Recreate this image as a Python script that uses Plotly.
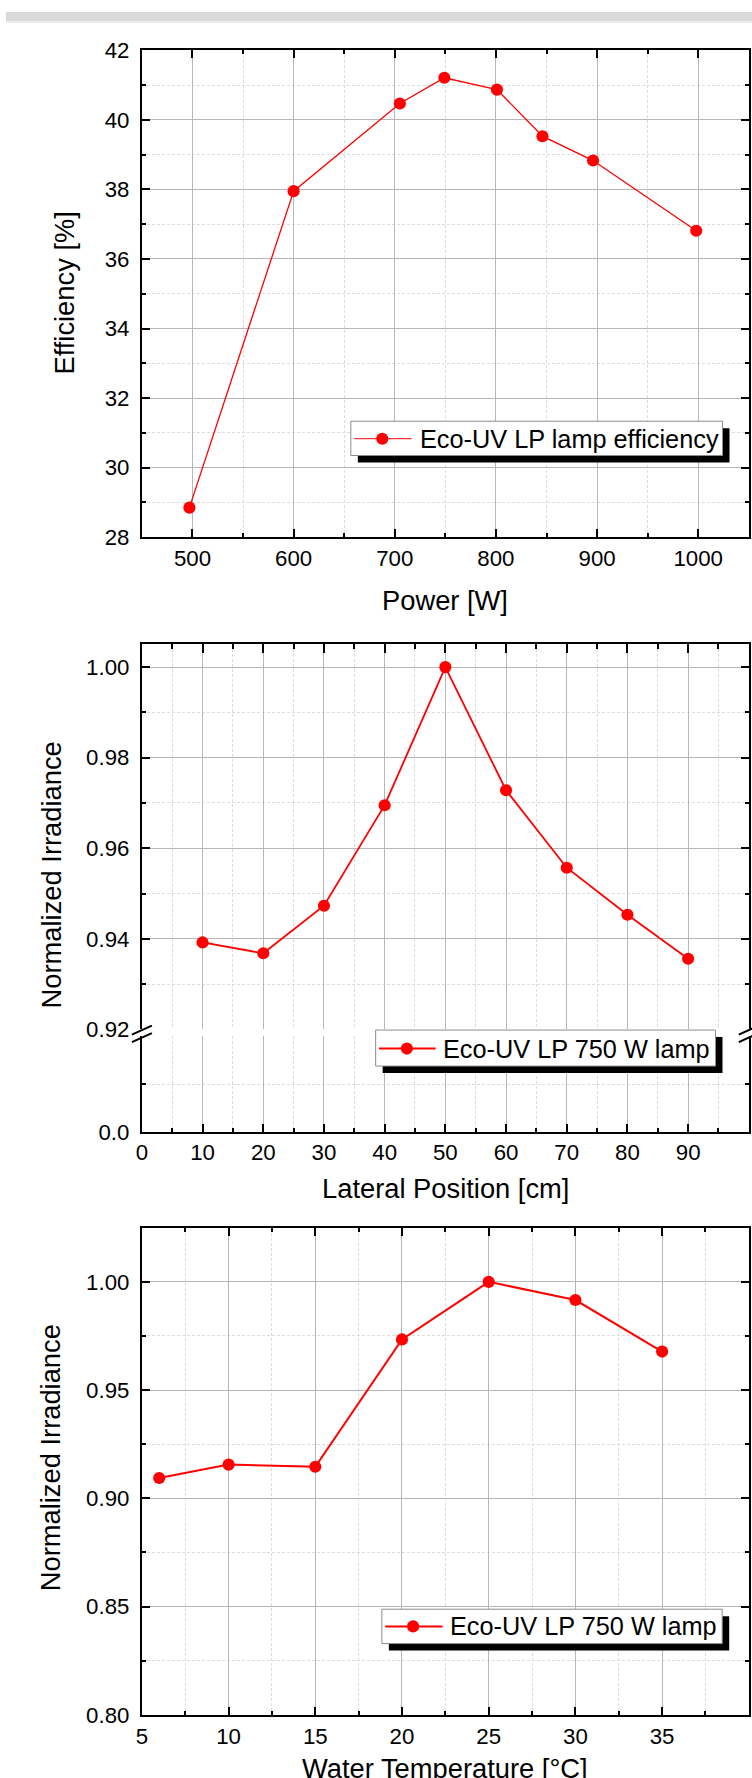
import plotly.graph_objects as go

# ---------------- data ----------------
power_w = [497, 600, 705, 749, 801, 846, 896, 998]
efficiency_pct = [28.85, 37.95, 40.47, 41.21, 40.87, 39.53, 38.83, 36.81]

lateral_cm = [10, 20, 30, 40, 50, 60, 70, 80, 90]
irr_lateral = [0.9392, 0.9368, 0.9473, 0.9695, 1.0, 0.9728, 0.9557, 0.9453, 0.9356]

water_temp_c = [6, 10, 15, 20, 25, 30, 35]
irr_temp = [0.9094, 0.9156, 0.9146, 0.9734, 1.0, 0.9916, 0.9678]

name1 = "Eco-UV LP lamp efficiency"
name2 = "Eco-UV LP 750 W lamp"
name3 = "Eco-UV LP 750 W lamp"

xtitle1, ytitle1 = "Power [W]", "Efficiency [%]"
xtitle2, ytitle2 = "Lateral Position [cm]", "Normalized Irradiance"
xtitle3, ytitle3 = "Water Temperature [°C]", "Normalized Irradiance"

# ---------------- layout helpers ----------------
W, H = 752, 1778
# the photographed page appears slightly shrunk/offset; positions below are
# given in target-picture pixels and mapped back to page pixels
SX, BX = 0.9913, 4.72
SY, BY = 0.98619, 10.68
K = 1 / 0.988  # size compensation

FONT = "Liberation Sans, Arial, Helvetica, sans-serif"
RED = "#ff0000"
GRID = "#b7b7b7"
MGRID = "#dcdcdc"


def px(x):
    return ((x - BX) / SX) / W


def py(y):
    return 1 - ((y - BY) / SY) / H


L, R = 140.5, 747.0
XD = [px(L), px(R)]

axis_common = dict(
    showline=True, linecolor="black", linewidth=2,
    ticks="inside", ticklen=8 * K, tickwidth=2, tickcolor="black",
    showgrid=True, gridcolor=GRID, gridwidth=1, zeroline=False,
    tickfont=dict(family=FONT, size=22 * K, color="black"),
)
XSO = dict(ticklabelstandoff=0)
YSO = dict(ticklabelstandoff=6)


def minor(**kw):
    d = dict(ticks="inside", ticklen=4 * K, tickwidth=1.5, tickcolor="black",
             showgrid=True, gridcolor=MGRID, griddash="3px,2px", gridwidth=1)
    d.update(kw)
    return d


MS = 12 * K
fig = go.Figure()

fig.add_trace(go.Scatter(x=power_w, y=efficiency_pct, name=name1, mode="lines+markers",
                         line=dict(color=RED, width=1.3), marker=dict(color=RED, size=MS),
                         xaxis="x", yaxis="y"))
# empty helper traces so that the lower (broken) segment and the top axis of chart 2 exist
fig.add_trace(go.Scatter(x=[None], y=[None], xaxis="x2", yaxis="y3", showlegend=False,
                         hoverinfo="skip"))
fig.add_trace(go.Scatter(x=[None], y=[None], xaxis="x3", yaxis="y2", showlegend=False,
                         hoverinfo="skip"))
fig.add_trace(go.Scatter(x=lateral_cm, y=irr_lateral, name=name2, mode="lines+markers",
                         line=dict(color=RED, width=1.8), marker=dict(color=RED, size=MS),
                         xaxis="x2", yaxis="y2"))
fig.add_trace(go.Scatter(x=water_temp_c, y=irr_temp, name=name3, mode="lines+markers",
                         line=dict(color=RED, width=2), marker=dict(color=RED, size=MS),
                         xaxis="x4", yaxis="y4"))

layout = dict(
    width=W, height=H, autosize=False,
    margin=dict(l=0, r=0, t=0, b=0),
    paper_bgcolor="white", plot_bgcolor="white",
    showlegend=False,
    font=dict(family=FONT, color="black"),
    # chart 1
    xaxis=dict(axis_common, **XSO, domain=XD, range=[450, 1050], tickmode="linear", tick0=0, dtick=100,
               minor=minor(dtick=50, tick0=0), anchor="y", mirror="ticks"),
    yaxis=dict(axis_common, **YSO, domain=[py(536), py(49)], range=[28, 42], tickmode="linear",
               tick0=0, dtick=2, minor=minor(dtick=1, tick0=0), anchor="x", mirror="ticks"),
    # chart 2 (broken y axis)
    xaxis2=dict(axis_common, **XSO, domain=XD, range=[0, 100], tickmode="linear", tick0=0, dtick=10,
                minor=minor(dtick=5, tick0=0), anchor="y3", mirror=False),
    xaxis3=dict(axis_common, domain=XD, range=[0, 100], overlaying="x2", tickmode="linear", tick0=0,
                dtick=10, minor=minor(dtick=5, tick0=0, showgrid=False), anchor="y2", side="top",
                showticklabels=False, showgrid=False, mirror=False),
    yaxis2=dict(axis_common, **YSO, domain=[py(1028.3), py(643.3)], range=[0.92, 1.005],
                tickmode="linear", tick0=0.92, dtick=0.02, tickformat=".2f",
                minor=minor(dtick=0.01, tick0=0.92), anchor="x2", mirror="ticks"),
    yaxis3=dict(axis_common, **YSO, domain=[py(1130.7), py(1035.3)], range=[0, 0.1],
                tickmode="array", tickvals=[0], ticktext=["0.0"],
                minor=minor(tickmode="array", tickvals=[0.05]), anchor="x2", mirror="ticks"),
    # chart 3
    xaxis4=dict(axis_common, **XSO, domain=XD, range=[5, 40], tickmode="linear", tick0=0, dtick=5,
                minor=minor(dtick=2.5, tick0=0), anchor="y4", mirror="ticks"),
    yaxis4=dict(axis_common, **YSO, domain=[py(1714), py(1226.7)], range=[0.80, 1.025],
                tickmode="linear", tick0=0.8, dtick=0.05, tickformat=".2f",
                minor=minor(dtick=0.025, tick0=0.8), anchor="x4", mirror="ticks"),
)
fig.update_layout(**layout)

shapes = []
annotations = []

# header band
shapes.append(dict(type="rect", xref="paper", yref="paper", x0=0, x1=1, y0=py(20), y1=1,
                   fillcolor="#d9d9d9", line=dict(width=0), layer="below"))
shapes.append(dict(type="line", xref="paper", yref="paper", x0=0, x1=1, y0=py(21), y1=py(21),
                   line=dict(color="#ececec", width=1.5), layer="below"))

# axis break marks (chart 2)
for xc in (L, R):
    for yc in (1029.0, 1036.5):
        shapes.append(dict(type="line", xref="paper", yref="paper",
                           x0=px(xc - 10), y0=py(yc + 4.5), x1=px(xc + 10), y1=py(yc - 4.5),
                           line=dict(color="black", width=2)))


def add_legend(box, line_x, mk_x, text_x, yc, text, lw):
    x0, y0, x1, y1 = box
    shapes.append(dict(type="rect", xref="paper", yref="paper",
                       x0=px(x0 + 7), x1=px(x1 + 7), y0=py(y1 + 7), y1=py(y0 + 7),
                       fillcolor="black", line=dict(width=0)))
    shapes.append(dict(type="rect", xref="paper", yref="paper",
                       x0=px(x0), x1=px(x1), y0=py(y1), y1=py(y0),
                       fillcolor="white", line=dict(color="#8c8c8c", width=1)))
    shapes.append(dict(type="line", xref="paper", yref="paper",
                       x0=px(line_x[0]), x1=px(line_x[1]), y0=py(yc), y1=py(yc),
                       line=dict(color=RED, width=lw)))
    r = 6 * K
    shapes.append(dict(type="circle", xref="paper", yref="paper",
                       xsizemode="pixel", ysizemode="pixel",
                       xanchor=px(mk_x), yanchor=py(yc), x0=-r, x1=r, y0=-r, y1=r,
                       fillcolor=RED, line=dict(width=0)))
    annotations.append(dict(xref="paper", yref="paper", x=px(text_x), y=py(yc),
                            xanchor="left", yanchor="middle", showarrow=False, text=text,
                            font=dict(family=FONT, size=25 * K, color="black")))


add_legend((349.3, 420.0, 720.7, 454.3), (352.7, 410.0), 380.7, 416.0, 437.5, name1, 1)
add_legend((374.1, 1029.0, 713.7, 1065.0), (377.5, 434.0), 405.3, 439.0, 1047.5, name2, 2)
add_legend((380.3, 1608.3, 720.4, 1642.7), (383.7, 441.0), 411.5, 446.0, 1625.5, name3, 2)


def title(text, x, y, angle=0):
    annotations.append(dict(xref="paper", yref="paper", x=px(x), y=py(y), xanchor="center",
                            yanchor="middle", showarrow=False, text=text, textangle=angle,
                            font=dict(family=FONT, size=27 * K, color="black")))


XC = (L + R) / 2
title(xtitle1, XC, 599)
title(ytitle1, 63, 292, -90)
title(xtitle2, XC, 1187)
title(ytitle2, 50, 874, -90)
title(xtitle3, XC, 1768)
title(ytitle3, 50, 1457, -90)

fig.update_layout(shapes=shapes, annotations=annotations)

fig.write_html("out.html", config={"displayModeBar": False},
               post_script="document.body.style.margin='0';document.body.style.overflow='hidden';")
